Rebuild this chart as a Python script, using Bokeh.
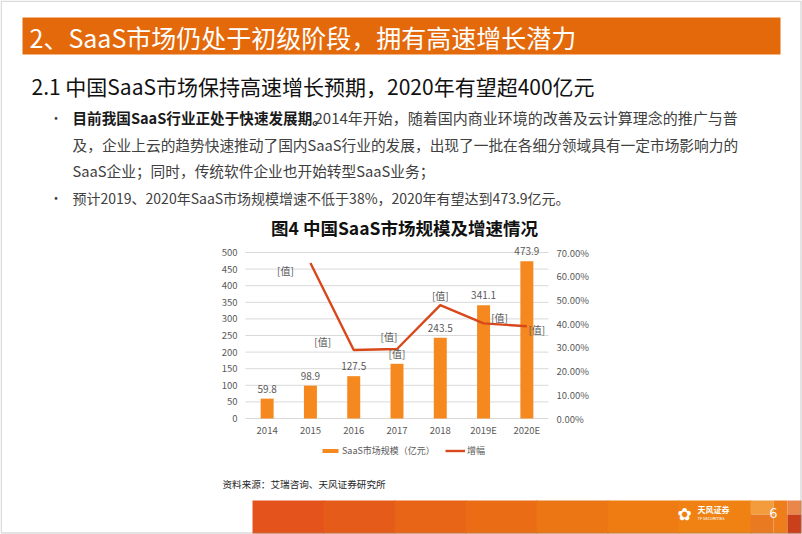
from bokeh.plotting import figure
from bokeh.models import (Range1d, LinearAxis, FixedTicker, PrintfTickFormatter,
                          ColumnDataSource, LabelSet, Label, BoxAnnotation, Legend, LegendItem)
from bokeh.core.properties import value
from bokeh.embed import file_html
from bokeh.resources import INLINE

# ---------------- data ----------------
categories = ["2014", "2015", "2016", "2017", "2018", "2019E", "2020E"]
market_size = [59.8, 98.9, 127.5, 164.8, 243.5, 341.1, 473.9]
bar_labels = ["59.8", "98.9", "127.5", "[值]", "243.5", "341.1", "473.9"]
growth_years = ["2015", "2016", "2017", "2018", "2019E", "2020E"]
growth_pct = [65.6, 28.9, 29.3, 47.8, 40.1, 38.9]
growth_labels = ["[值]", "[值]", "[值]", "[值]", "[值]", "[值]"]
left_ticks = [0, 50, 100, 150, 200, 250, 300, 350, 400, 450, 500]
right_ticks = [0, 10, 20, 30, 40, 50, 60, 70]

title_text = "2、SaaS市场仍处于初级阶段，拥有高速增长潜力"
subtitle_text = "2.1 中国SaaS市场保持高速增长预期，2020年有望超400亿元"
bullet1_bold = "目前我国SaaS行业正处于快速发展期。"
bullet1_rest = "2014年开始，随着国内商业环境的改善及云计算理念的推广与普"
bullet1_line2 = "及，企业上云的趋势快速推动了国内SaaS行业的发展，出现了一批在各细分领域具有一定市场影响力的"
bullet1_line3 = "SaaS企业；同时，传统软件企业也开始转型SaaS业务；"
bullet2 = "预计2019、2020年SaaS市场规模增速不低于38%，2020年有望达到473.9亿元。"
chart_title = "图4  中国SaaS市场规模及增速情况"
source_text = "资料来源：艾瑞咨询、天风证券研究所"
legend_bar = "SaaS市场规模（亿元）"
legend_line = "增幅"
page_no = "6"
brand = "天风证券"
brand_en = "TF SECURITIES"

cat_pos = list(range(len(categories)))
growth_pos = [categories.index(c) for c in growth_years]

# ---------------- layout / style ----------------
W, H = 802, 534
FL, FR, FT, FB = 245, 548, 252, 418      # chart plot area in slide pixels
Y_TOP, PCT_TOP = 500, 70                 # axis maxima shown at FT
CJK = "Noto Sans CJK SC"
AX = "#595959"
BAR = "#F5891F"
LINE = "#D9481A"
HEAD = "#E4690B"

# chart ranges stretched so that the plot area lands on [FL,FR] x [FT,FB] of the full-slide frame
n = len(categories)
ppx = (FR - FL) / n
cx = Range1d(-0.5 - FL / ppx, n - 0.5 + (W - FR) / ppx)
ppy = (FB - FT) / Y_TOP
cy = Range1d(-(H - FB) / ppy, FB / ppy)
ppp = (FB - FT) / PCT_TOP
cp = Range1d(-(H - FB) / ppp, FB / ppp)

p = figure(width=W, height=H, x_range=Range1d(0, W), y_range=Range1d(H, 0),
           x_axis_type=None, y_axis_type=None, output_backend="svg", toolbar_location=None,
           min_border=0)
p.outline_line_color = None
p.background_fill_color = "white"
p.border_fill_color = "white"
p.extra_x_ranges = {"cx": cx}
p.extra_y_ranges = {"cy": cy, "cp": cp}


def box(l, r, t, b, color):
    p.add_layout(BoxAnnotation(left=l, right=r, top=t, bottom=b,
                               fill_color=color, fill_alpha=1, line_color=None))


def txt(x, y, s, size, color, style="normal", align="left", font=CJK):
    p.add_layout(Label(x=x, y=y, text=s, text_font_size=f"{size}px", text_color=color,
                       text_font_style=style, text_font=font, text_baseline="middle",
                       text_align=align))


# ---- slide decoration
box(22, 780, 17, 54, HEAD)
footer_cols = ["#E3531B", "#E55B19", "#E86417", "#EA6D15", "#EC7514", "#EE7C13", "#EF8213"]
fx = [252, 323, 394, 465, 536, 607, 678, 750]
for i, c in enumerate(footer_cols):
    box(fx[i], fx[i + 1] + 1, 500, 533, c)
box(750, 773, 500, 514, "#F39C3E")
box(750, 773, 514, 533, "#EA7A22")
box(773, 787, 500, 533, "#EE7D1C")
box(787, 801, 500, 514, "#E9864A")
box(787, 801, 514, 533, "#C9401A")
p.add_layout(BoxAnnotation(left=0.75, right=800.5, top=0.75, bottom=532.5, fill_alpha=0,
                           line_color="#8C8C8C", line_width=1.5))

txt(29, 36, title_text, 25, "white")
txt(31, 85, subtitle_text, 21, "#111111")
for yy in [117, 197]:
    txt(49, yy, "•", 13, "#404040")
txt(72, 117, bullet1_bold, 14.6, "#1a1a1a", style="bold")
txt(314, 117, bullet1_rest, 15, "#404040")
txt(72, 144, bullet1_line2, 14.7, "#404040")
txt(72, 170, bullet1_line3, 14.7, "#404040")
txt(72, 197, bullet2, 14.0, "#404040")
txt(406, 227, chart_title, 17.5, "#111111", style="bold", align="center")
txt(222, 483, source_text, 9.6, "#262626")
txt(684, 513, "✿", 17, "white", align="center", font="DejaVu Sans")
txt(697, 509, brand, 8, "white", style="bold")
txt(697, 518, brand_en, 4, "white", font="Roboto")
txt(773, 512, page_no, 14, "white", align="center")

# ---- chart: gridlines, axes
p.segment(x0=-0.5, x1=n - 0.5, y0=left_ticks, y1=left_ticks, x_range_name="cx", y_range_name="cy",
          line_color="#D9D9D9", line_width=1)


def style_axis(ax, standoff):
    ax.axis_line_color = None
    ax.major_tick_line_color = None
    ax.minor_tick_line_color = None
    ax.major_tick_out = 0
    ax.major_tick_in = 0
    ax.major_label_text_color = AX
    ax.major_label_text_font = CJK
    ax.major_label_text_font_size = "9.5px"
    ax.major_label_standoff = standoff


lax = LinearAxis(x_range_name="cx", y_range_name="cy", fixed_location=-0.5,
                 ticker=FixedTicker(ticks=left_ticks))
style_axis(lax, 8)
p.add_layout(lax, "left")

rax = LinearAxis(x_range_name="cx", y_range_name="cp", fixed_location=n - 0.5,
                 ticker=FixedTicker(ticks=right_ticks), formatter=PrintfTickFormatter(format="%.2f%%"))
style_axis(rax, 8)
p.add_layout(rax, "right")

bax = LinearAxis(x_range_name="cx", y_range_name="cy", fixed_location=0,
                 ticker=FixedTicker(ticks=cat_pos),
                 major_label_overrides={i: c for i, c in zip(cat_pos, categories)})
style_axis(bax, 4)
p.add_layout(bax, "below")

# ---- chart: bars, line, labels
bsrc = ColumnDataSource(dict(x=cat_pos, top=market_size, lab=bar_labels))
bars = p.vbar(x="x", top="top", width=0.3, source=bsrc, x_range_name="cx", y_range_name="cy",
              fill_color=BAR, line_color=None)
lsrc = ColumnDataSource(dict(x=growth_pos, y=growth_pct, lab=growth_labels,
                             dx=[-25, -31, -8, 0, 16, 10], dy=[-8, 8, 13, 10, 6, -3]))
line = p.line(x="x", y="y", source=lsrc, x_range_name="cx", y_range_name="cp",
              line_color=LINE, line_width=2.4)

p.add_layout(LabelSet(x="x", y="top", text="lab", source=bsrc, x_range_name="cx", y_range_name="cy",
                      y_offset=10, text_font=value(CJK), text_font_size="10px", text_color=AX,
                      text_align="center", text_baseline="middle"))
p.add_layout(LabelSet(x="x", y="y", text="lab", source=lsrc, x_range_name="cx", y_range_name="cp",
                      x_offset="dx", y_offset="dy",
                      text_font=value(CJK), text_font_size="10px", text_color=AX,
                      text_align="center", text_baseline="middle"))

legend = Legend(items=[LegendItem(label=legend_bar, renderers=[bars]),
                       LegendItem(label=legend_line, renderers=[line])],
                orientation="horizontal", location=(320, H - 457), glyph_width=20, glyph_height=5,
                label_text_font=CJK, label_text_font_size="9px", label_text_color=AX,
                label_standoff=2, spacing=10, padding=0, margin=0,
                border_line_color=None, background_fill_alpha=0)
p.add_layout(legend, "center")

open("out.html", "w").write(file_html(p, INLINE))
